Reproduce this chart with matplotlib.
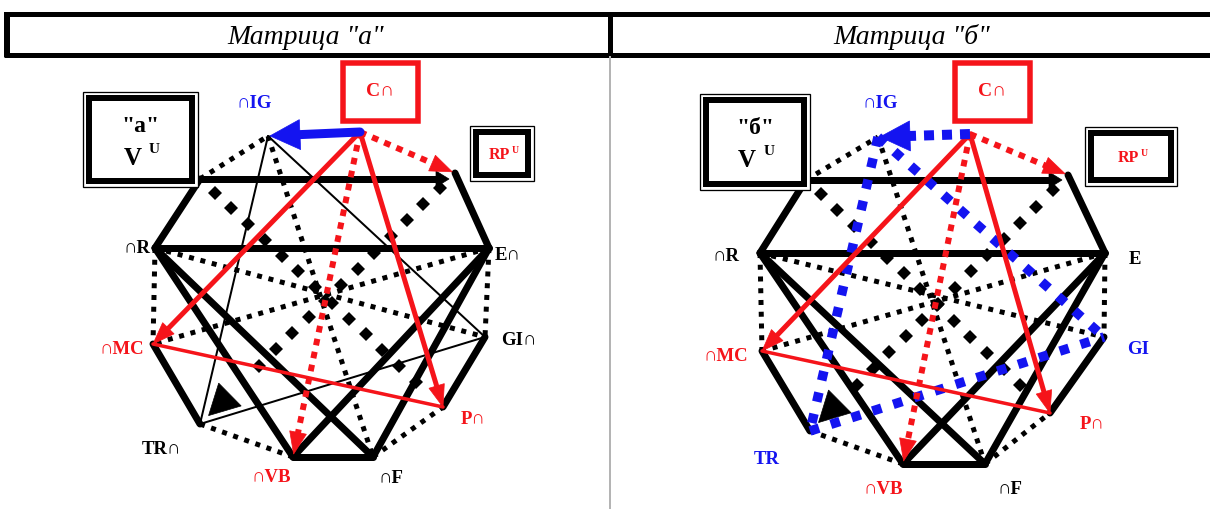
import numpy as np
import matplotlib
matplotlib.use("Agg")
import matplotlib.pyplot as plt
from matplotlib.patches import Polygon, Rectangle

W, H = 1210, 510
PX = 0.72  # points per pixel at 100 dpi

# ---------------- data ----------------
panel_titles = ['Матрица "а"', 'Матрица "б"']
box_letters = ['"a"', '"б"']

node_names = ['TL', 'IG', 'C', 'TRp', 'E', 'GI', 'P', 'F', 'VB', 'TR', 'MC', 'R']
left_x = [200, 268, 360, 455, 489, 485, 443, 373, 293, 200, 153, 155]
left_y = [180, 137, 133, 174, 249, 338, 408, 458, 458, 425, 345, 249]
right_x = [806, 878, 970, 1068, 1105, 1104, 1050, 985, 903, 810, 762, 760]
right_y = [181, 138, 135, 176, 254, 338, 414, 465, 465, 432, 352, 254]

thick_edges = [('TL', 'R'), ('TRp', 'E'), ('R', 'E'), ('R', 'VB'), ('R', 'F'),
               ('E', 'VB'), ('E', 'F'), ('VB', 'F'), ('MC', 'TR'), ('GI', 'P')]
dotted_edges = [('TL', 'IG'), ('IG', 'F'), ('R', 'GI'), ('E', 'MC'), ('R', 'MC'),
                ('E', 'GI'), ('TR', 'VB'), ('F', 'P')]
diamond_edges = [('TL', 'P'), ('TRp', 'TR')]
thin_edges = [('IG', 'TR'), ('IG', 'GI'), ('TR', 'GI')]
red_arrows = [('C', 'MC'), ('C', 'P')]
red_lines = [('MC', 'P')]
red_dotted_arrows = [('C', 'VB'), ('C', 'TRp')]

left_labels = ['∩IG', '∩R', 'E∩', '∩MC', 'GI∩', 'TR∩', 'P∩', '∩VB', '∩F']
right_labels = ['∩IG', '∩R', 'E', '∩MC', 'GI', 'TR', 'P∩', '∩VB', '∩F']
left_label_colors = ['blue', 'black', 'black', 'red', 'black', 'black', 'red', 'red', 'black']
right_label_colors = ['blue', 'black', 'black', 'red', 'blue', 'blue', 'red', 'red', 'black']

# ---------------- styling / layout ----------------
RED = '#f5141a'
BLUE = '#1414f0'
SERIF = ['Liberation Serif', 'DejaVu Serif']

left_label_pos = [(254, 103), (137, 249), (508, 255), (122, 350), (519, 341),
                  (161, 450), (473, 420), (271, 478), (391, 479)]
right_label_pos = [(880, 103), (726, 257), (1135, 260), (726, 357), (1138, 350),
                   (767, 460), (1092, 425), (883, 490), (1010, 490)]

fig = plt.figure(figsize=(W / 100, H / 100), dpi=100)
ax = fig.add_axes([0, 0, 1, 1])
ax.set_xlim(0, W)
ax.set_ylim(H, 0)
ax.axis('off')


def head(p0, p1, length, width, color, z, back=0.0):
    p0 = np.asarray(p0, float)
    p1 = np.asarray(p1, float)
    d = p1 - p0
    d /= np.hypot(*d)
    tip = p1 - d * back
    n = np.array([-d[1], d[0]])
    base = tip - d * length
    ax.add_patch(Polygon([tip, base + n * width / 2, base - n * width / 2],
                         closed=True, fc=color, ec=color, lw=0.5, zorder=z))
    return base + d * 2


def seg(p0, p1, color, lwpx, z, dots=None):
    kw = dict(color=color, lw=lwpx * PX, zorder=z, solid_capstyle='round')
    if dots is not None:
        kw.update(linestyle=(0, dots), dash_capstyle='butt')
    ax.plot([p0[0], p1[0]], [p0[1], p1[1]], **kw)


def diamonds(p0, p1, spacing, ms, z, t0=0.04, t1=1.0):
    p0 = np.asarray(p0, float)
    p1 = np.asarray(p1, float)
    L = np.hypot(*(p1 - p0))
    ts = np.arange(t0 * L, t1 * L, spacing) / L
    pts = p0[None, :] + ts[:, None] * (p1 - p0)[None, :]
    ax.plot(pts[:, 0], pts[:, 1], 'D', color='black', ms=ms, mew=0, zorder=z)


def panel(xs, ys, labels, lcolors, lpos, right):
    N = {k: (x, y) for k, x, y in zip(node_names, xs, ys)}
    # thick black frame / cross lines
    for a, b in thick_edges:
        seg(N[a], N[b], 'black', 7, 3)
    # top horizontal arrow
    tl = N['TL']
    end = (N['TRp'][0] - 6, tl[1])
    base = head(tl, end, 13, 16, 'black', 3)
    seg(tl, base, 'black', 7, 3)
    # dotted black
    for a, b in dotted_edges:
        seg(N[a], N[b], 'black', 5, 4, dots=(1, 1.35))
    # diamond lines
    diamonds(N['TL'], N['P'], 23, 7.4, 4, t0=0.06, t1=0.93)
    diamonds(N['TRp'], N['TR'], 23, 7.4, 4, t0=0.06, t1=0.82)
    head(N['TRp'], N['TR'], 30, 32, 'black', 4, back=12)
    # thin lines or blue dotted
    for a, b in thin_edges:
        if right:
            seg(N[a], N[b], BLUE, 9.5, 6, dots=(1, 1.3))
        else:
            seg(N[a], N[b], 'black', 2, 5)
    # red lines
    for a, b in red_lines:
        seg(N[a], N[b], RED, 3.5, 7)
    for a, b in red_arrows:
        base = head(N[a], N[b], 22, 16, RED, 8)
        seg(N[a], base, RED, 5, 8)
    for a, b in red_dotted_arrows:
        base = head(N[a], N[b], 22, 17, RED, 8, back=3)
        seg(N[a], base, RED, 6, 8, dots=(1.1, 1.1))
    # blue arrow C -> IG
    c = N['C']
    ig = N['IG']
    base = head(c, ig, 30, 30, BLUE, 9, back=2)
    if right:
        seg(c, base, BLUE, 10, 9, dots=(1, 0.8))
    else:
        seg(c, base, BLUE, 9, 9)
    # node labels
    for t, col, (x, y) in zip(labels, lcolors, lpos):
        ax.text(x, y, t, color={'red': RED, 'blue': BLUE, 'black': 'black'}[col],
                fontsize=13.5, fontweight='bold', family=SERIF,
                ha='center', va='center', zorder=12)


panel(left_x, left_y, left_labels, left_label_colors, left_label_pos, False)
panel(right_x, right_y, right_labels, right_label_colors, right_label_pos, True)


def dbl_box(x0, y0, x1, y1, z=10):
    ax.add_patch(Rectangle((x0, y0), x1 - x0, y1 - y0, fc='white', ec='black',
                           lw=1.3 * PX, zorder=z))
    ax.add_patch(Rectangle((x0 + 6, y0 + 6), x1 - x0 - 12, y1 - y0 - 12, fc='white',
                           ec='black', lw=6 * PX, zorder=z))


# V^U boxes
for (x0, y0, x1, y1), letter in zip([(83, 93, 198, 188), (700, 95, 810, 191)], box_letters):
    dbl_box(x0, y0, x1, y1)
    cx = (x0 + x1) / 2
    ax.text(cx, y0 + 33, letter, fontsize=17, fontweight='bold', family=SERIF,
            ha='center', va='center', zorder=12)
    ax.text(cx - 8, y0 + 66, 'V', fontsize=18, fontweight='bold', family=SERIF,
            ha='center', va='center', zorder=12)
    ax.text(cx + 14, y0 + 57, 'U', fontsize=11, fontweight='bold', family=SERIF,
            ha='center', va='center', zorder=12)

# RP^U boxes
for (x0, y0, x1, y1) in [(470, 127, 534, 182), (1085, 128, 1177, 187)]:
    dbl_box(x0, y0, x1, y1)
    cx, cy = (x0 + x1) / 2, (y0 + y1) / 2
    ax.text(cx - 3, cy + 1, 'RP', color=RED, fontsize=11.5, fontweight='bold', family=SERIF,
            ha='center', va='center', zorder=12)
    ax.text(cx + 13, cy - 4, 'U', color=RED, fontsize=7, fontweight='bold', family=SERIF,
            ha='center', va='center', zorder=12)

# C boxes
for (x0, y0, x1, y1) in [(343, 64, 418, 122), (955, 64, 1030, 122)]:
    ax.add_patch(Rectangle((x0, y0), x1 - x0, y1 - y0, fc='white', ec=RED,
                           lw=5.5 * PX, zorder=10))
    ax.text((x0 + x1) / 2, (y0 + y1) / 2 - 2, 'C∩', color=RED, fontsize=14,
            fontweight='bold', family=SERIF, ha='center', va='center', zorder=12)

# header
ax.plot([4, W], [15, 15], color='black', lw=5 * PX, solid_capstyle='butt', zorder=20)
ax.plot([4, W], [56, 56], color='black', lw=5 * PX, solid_capstyle='butt', zorder=20)
ax.plot([7, 7], [13, 58], color='black', lw=6 * PX, solid_capstyle='butt', zorder=20)
ax.plot([610, 610], [13, 58], color='black', lw=5 * PX, solid_capstyle='butt', zorder=20)
ax.plot([610, 610], [58, H], color='#b4b4b4', lw=2 * PX, zorder=20)
for cx, t in zip([306, 912], panel_titles):
    ax.text(cx, 37, t, fontsize=20, style='italic', family=SERIF,
            ha='center', va='center', zorder=21)

fig.savefig('out.png', dpi=100, facecolor='white')
